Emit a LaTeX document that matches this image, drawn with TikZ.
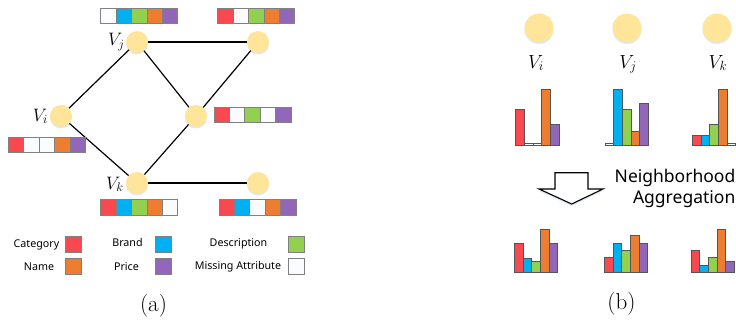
\RequirePackage{fix-cm}
\documentclass[tikz,border=0pt]{standalone}
\usepackage{fontspec}
\newfontfamily\legendfont{Noto Sans}
\usetikzlibrary{shadows}
\definecolor{cRed}{RGB}{248,72,80}
\definecolor{cBlue}{RGB}{0,176,240}
\definecolor{cGreen}{RGB}{146,208,80}
\definecolor{cOrange}{RGB}{237,125,49}
\definecolor{cPurple}{RGB}{146,102,184}
\definecolor{cWhite}{RGB}{250,252,255}
\definecolor{cNode}{RGB}{255,229,153}
\definecolor{cCell}{RGB}{128,128,128}
\definecolor{cBarEdge}{RGB}{85,85,85}
\definecolor{cShadow}{RGB}{200,215,235}
\newcommand\attrbar[3]{%
  \foreach \cc [count=\kk from 0] in {#3} {%
    \draw[cellbox, fill=\cc] ({#1+\kk*15.4},#2) rectangle ++(15.4,15.5);}}
\newcommand\histo[3]{%
  \foreach \cc/\hh [count=\kk from 0] in {#3} {%
    \draw[histbar, fill=\cc] ({#1+\kk*8.66},#2) rectangle ++(8.66,-\hh);}}
\begin{document}
\begin{tikzpicture}[x=1pt,y=-1pt,
  gnode/.style={circle, fill=cNode, minimum size=22pt, inner sep=0pt,
    drop shadow={fill=cShadow, opacity=0.6, shadow xshift=0pt, shadow yshift=-1.5pt}},
  bignode/.style={gnode, minimum size=29pt},
  edge/.style={line width=1.2pt, black},
  cellbox/.style={draw=cCell, line width=0.7pt},
  histbar/.style={draw=cBarEdge, line width=0.8pt},
  legbox/.style={draw=cCell, line width=0.7pt, minimum width=16pt, minimum height=15.5pt, inner sep=0pt},
  legtext/.style={font=\legendfont\fontsize{10.7}{13}\selectfont, inner sep=0pt},
  mlabel/.style={font=\fontsize{18}{22}\selectfont, inner sep=0pt},
  rlabel/.style={font=\fontsize{19}{23}\selectfont, inner sep=0pt},
  caption/.style={font=\fontsize{23}{28}\selectfont, inner sep=0pt}]
\useasboundingbox (0,0) rectangle (736,321);

% ---------- (a) graph ----------
\node[gnode] (vj) at (137,42) {};
\node[gnode] (vtr) at (258,42) {};
\node[gnode] (vi) at (61,116) {};
\node[gnode] (vm) at (196,116) {};
\node[gnode] (vk) at (137,183) {};
\node[gnode] (vbr) at (258,183) {};

\draw[edge] (vi) -- (vj);
\draw[edge] (vi) -- (vk);
\draw[edge] (vj) -- (vtr);
\draw[edge] (vj) -- (vm);
\draw[edge] (vm) -- (vtr);
\draw[edge] (vm) -- (vk);
\draw[edge] (vk) -- (vbr);

\node[mlabel, anchor=base east] (li) at (48,121) {$V_i$};
\node[mlabel, anchor=base east] (lj) at (125,46) {$V_j$};
\node[mlabel, anchor=base east] (lk) at (124,189) {$V_k$};

\attrbar{100.7}{8.3}{cWhite,cBlue,cGreen,cOrange,cPurple}
\attrbar{217.7}{8.3}{cRed,cWhite,cGreen,cOrange,cPurple}
\attrbar{214}{107.3}{cRed,cWhite,cGreen,cWhite,cPurple}
\attrbar{8.3}{137}{cRed,cWhite,cWhite,cOrange,cPurple}
\attrbar{100.7}{199.5}{cRed,cBlue,cGreen,cOrange,cWhite}
\attrbar{219}{199.5}{cRed,cBlue,cWhite,cOrange,cPurple}

% legend
\node[legtext] (tcat) at (36.5,245) {Category};
\node[legbox, fill=cRed] (bcat) at (73,244.4) {};
\node[legtext] (tname) at (39,266.7) {Name};
\node[legbox, fill=cOrange] (bname) at (73,266.5) {};
\node[legtext] (tbrand) at (127.5,242.7) {Brand};
\node[legbox, fill=cBlue] (bbrand) at (163,244.4) {};
\node[legtext] (tprice) at (126.5,266.7) {Price};
\node[legbox, fill=cPurple] (bprice) at (163,266.5) {};
\node[legtext] (tdesc) at (238.5,244) {Description};
\node[legbox, fill=cGreen] (bdesc) at (296,244.2) {};
\node[legtext] (tmiss) at (238,266.7) {Missing Attribute};
\node[legbox, fill=cWhite] (bmiss) at (296,266.5) {};

\node[caption] (capa) at (153.5,305.5) {(a)};

% ---------- (b) ----------
\node[bignode] (ri) at (539,28) {};
\node[bignode] (rj) at (627,28) {};
\node[bignode] (rk) at (717,28) {};
\node[rlabel, anchor=base] (rli) at (536,68) {$V_i$};
\node[rlabel, anchor=base] (rlj) at (628,68) {$V_j$};
\node[rlabel, anchor=base] (rlk) at (718,68) {$V_k$};

\histo{515.7}{145.7}{cRed/36.4,cWhite/2.5,cWhite/2.5,cOrange/56.4,cPurple/21.4}
\histo{605}{145.7}{cWhite/2.5,cBlue/56.4,cGreen/36.4,cOrange/14,cPurple/42.4}
\histo{692.3}{145.7}{cRed/10.7,cBlue/10.7,cGreen/21.4,cOrange/56.4,cWhite/2.5}

\draw[line width=1.1pt, fill=white,
  drop shadow={fill=cShadow, opacity=0.6, shadow xshift=0pt, shadow yshift=-2pt}]
  (555,172.7) -- (588,172.7) -- (588,189) -- (603,189) -- (571.7,204)
  -- (539,189) -- (555,189) -- cycle;

\node[anchor=east, align=right, inner sep=0pt,
  font=\legendfont\fontsize{17.5}{21}\selectfont] (agg) at (735.5,188.5)
  {Neighborhood\\Aggregation};

\histo{514.3}{272.3}{cRed/29,cBlue/14,cGreen/11,cOrange/43,cPurple/29}
\histo{604.3}{272.3}{cRed/14.6,cBlue/29,cGreen/21.6,cOrange/37.3,cPurple/29}
\histo{691}{272.3}{cRed/21.6,cBlue/6.6,cGreen/14.6,cOrange/43.3,cPurple/11.3}

\node[caption] (capb) at (621.5,304) {(b)};
\end{tikzpicture}
\end{document}
